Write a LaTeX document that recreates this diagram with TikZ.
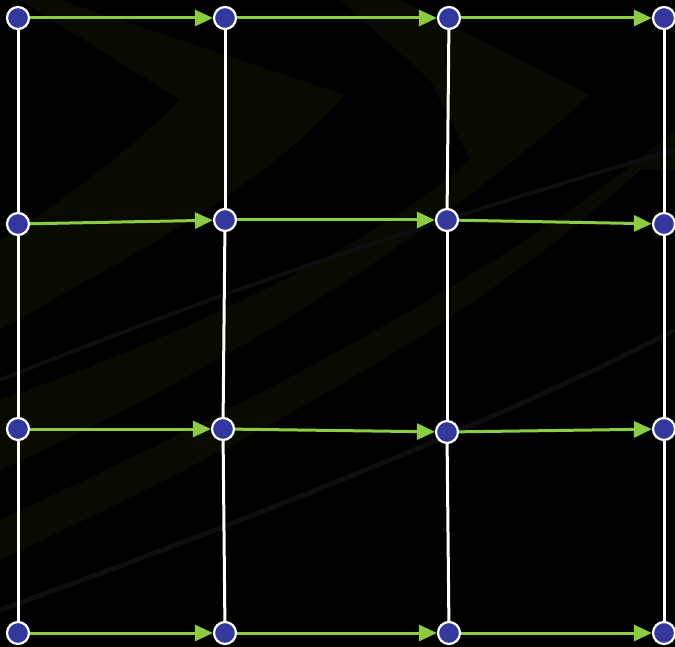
\documentclass[tikz,border=0pt]{standalone}
\usepackage{tikz}
\usetikzlibrary{arrows.meta}

\definecolor{gridblue}{RGB}{52,56,156}
\definecolor{flowgreen}{RGB}{140,204,66}
\definecolor{bgolive}{RGB}{8,11,2}
\definecolor{bgstreak}{RGB}{14,14,16}

\tikzset{
    pe/.style={circle, draw=white, line width=2.2pt, fill=gridblue,
        minimum size=22pt, inner sep=0pt},
    flow/.style={-{Triangle[length=18pt, width=16pt]}, flowgreen, line width=3pt},
    link/.style={white, line width=3pt}
}

\begin{document}
\begin{tikzpicture}[x=1pt, y=-1pt]
    % background
    \fill[black] (0,0) rectangle (675,647);
    \useasboundingbox (0,0) rectangle (675,647);
    \fill[bgolive] (60,0) -- (345,95) .. controls (250,200) and (120,260) .. (0,330)
        -- (0,240) .. controls (80,190) and (140,140) .. (180,100) -- (20,0) -- cycle;
    \fill[bgolive] (400,0) -- (590,95) .. controls (420,250) and (200,380) .. (0,470)
        -- (0,400) .. controls (200,330) and (380,240) .. (470,160)
        -- (430,80) -- (340,0) -- cycle;
    \fill[bgolive] (640,170) .. controls (500,300) and (300,420) .. (0,560)
        -- (0,520) .. controls (300,380) and (520,260) .. (675,130) -- (675,170) -- cycle;
    \draw[bgstreak, line width=5pt] (0,610) .. controls (250,520) and (500,420) .. (675,330);
    \draw[bgstreak, line width=4pt] (0,380) .. controls (200,300) and (400,230) .. (675,150);

    \foreach[count=\i] \row in {{18/18,225/18,449/18,664/18},
                                {18/224,225/220,447/220,664/224},
                                {18/429,223/429,447/432,664/429},
                                {18/633,225/633,449/633,664/633}} {
        \foreach[count=\j] \x/\y in \row {
            \node[pe] (n-\i-\j) at (\x,\y) {};
        }
    }
    \foreach \j in {1,...,4} {
        \foreach \i/\k in {1/2,2/3,3/4} {
            \draw[link] (n-\i-\j) -- (n-\k-\j);
        }
    }
    \foreach \i in {1,...,4} {
        \foreach \j/\k in {1/2,2/3,3/4} {
            \draw[flow] (n-\i-\j) -- (n-\i-\k);
        }
    }
\end{tikzpicture}
\end{document}
